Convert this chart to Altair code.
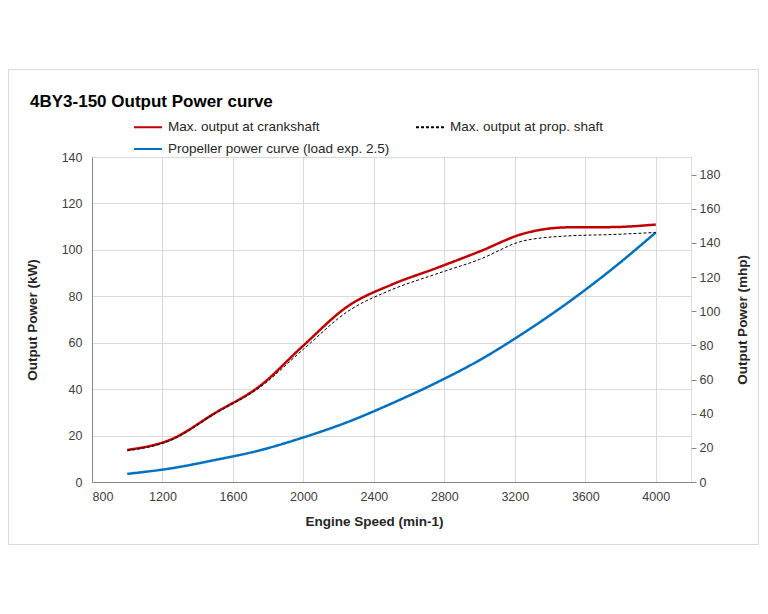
import altair as alt
import pandas as pd

# ---- data ----
speed = [1000, 1250, 1500, 1750, 2000, 2250, 2500, 2750, 3000, 3250, 3500, 3750, 4000]
crank_kw = [13.8, 18.4, 29.8, 41.2, 58.8, 75.6, 85.0, 92.0, 99.3, 107.0, 109.7, 109.8, 110.9]
prop_shaft_kw = [13.5, 18.0, 29.5, 40.6, 57.2, 73.4, 82.8, 89.5, 95.9, 103.9, 106.0, 106.6, 107.5]
propeller_kw = [3.5, 5.9, 9.5, 13.6, 19.2, 25.8, 33.8, 42.6, 52.5, 64.2, 77.2, 91.6, 107.5]

series_names = [
    "Max. output at crankshaft",
    "Max. output at prop. shaft",
    "Propeller power curve (load exp. 2.5)",
]
series_colors = ["#c00000", "#000000", "#0070c0"]
series_dash = [[1, 0], [3, 2], [1, 0]]
series_width = [2.5, 1.0, 2.5]

x_ticks = [800, 1200, 1600, 2000, 2400, 2800, 3200, 3600, 4000]
kw_ticks = [0, 20, 40, 60, 80, 100, 120, 140]
mhp_ticks = [0, 20, 40, 60, 80, 100, 120, 140, 160, 180]
KW_TO_MHP = 1.35962

title_text = "4BY3-150 Output Power curve"
x_title = "Engine Speed (min-1)"
y_title = "Output Power (kW)"
y2_title = "Output Power (mhp)"

# draw order: crankshaft, propeller, then the dashed prop-shaft line on top
rows = []
for idx, values in [(0, crank_kw), (2, propeller_kw), (1, prop_shaft_kw)]:
    for s, v in zip(speed, values):
        rows.append({"speed": s, "kw": v, "series": series_names[idx], "sw": series_width[idx]})
df = pd.DataFrame(rows)

FONT = "Liberation Sans"
W, H = 599, 325

legend = alt.Legend(
    title=None, orient="none", legendX=41, legendY=-45, columns=2, columnPadding=22,
    direction="horizontal",
    rowPadding=-9.5, symbolType="stroke", symbolSize=784, symbolStrokeWidth=2, labelOffset=5,
    labelFont=FONT, labelFontSize=13.5, labelColor="#262626", padding=0, labelLimit=400,
    values=series_names,
)

x_enc = alt.X(
    "speed:Q",
    scale=alt.Scale(domain=[800, 4200], nice=False, zero=False),
    axis=alt.Axis(
        values=x_ticks, title=x_title, ticks=False, labelPadding=8,
        grid=True, gridColor="#d9d9d9", domainColor="#868686",
        labelFontSize=12.5, labelColor="#404040", labelFont=FONT,
        titleFontSize=13.5, titleFont=FONT, titleFontWeight="bold", titleColor="#262626",
        titlePadding=12, titleX=282, format="d",
    ),
)

lines = alt.Chart(df).mark_line(interpolate="monotone").encode(
    x=x_enc,
    y=alt.Y(
        "kw:Q",
        scale=alt.Scale(domain=[0, 140], nice=False),
        axis=alt.Axis(
            values=kw_ticks, title=y_title, ticks=False, labelPadding=10,
            grid=True, gridColor="#d9d9d9", domainColor="#868686",
            labelFontSize=12.5, labelColor="#404040", labelFont=FONT,
            titleFontSize=13.5, titleFont=FONT, titleFontWeight="bold", titleColor="#262626",
            titlePadding=22,
        ),
    ),
    color=alt.Color("series:N", scale=alt.Scale(domain=series_names, range=series_colors), legend=legend),
    strokeDash=alt.StrokeDash("series:N", scale=alt.Scale(domain=series_names, range=series_dash), legend=legend),
    strokeWidth=alt.StrokeWidth("sw:Q", scale=None),
    detail="series:N",
)

mhp_layer = alt.Chart(df).transform_filter(
    alt.datum.series == series_names[0]
).transform_calculate(
    mhp=f"datum.kw * {KW_TO_MHP}"
).mark_line(opacity=0).encode(
    x=alt.X("speed:Q"),
    y=alt.Y(
        "mhp:Q",
        scale=alt.Scale(domain=[0, 140 * KW_TO_MHP], nice=False),
        axis=alt.Axis(
            orient="right", values=mhp_ticks, title=y2_title, grid=False,
            domain=False, ticks=True, tickSize=5, tickColor="#868686", labelPadding=3,
            labelFontSize=12.5, labelColor="#404040", labelFont=FONT,
            titleFontSize=13.5, titleFont=FONT, titleFontWeight="bold", titleColor="#262626",
            titlePadding=30, titleAngle=270,
        ),
    ),
)

border_df = pd.DataFrame({"k": [0]})
border = alt.Chart(border_df).mark_rect(fillOpacity=0, stroke="#d9d9d9", strokeWidth=1).encode(
    x=alt.value(-83.5), x2=alt.value(666.5), y=alt.value(-87.5), y2=alt.value(387.5)
)

chart = alt.layer(border, lines, mhp_layer).resolve_scale(y="independent").properties(
    width=W, height=H,
    title=alt.TitleParams(
        title_text, anchor="start", frame="group", fontSize=17, fontWeight="bold",
        font=FONT, color="#000000", dx=-62, offset=-42,
    ),
    autosize=alt.AutoSizeParams(type="none"),
    padding={"left": 84, "top": 149, "right": 68, "bottom": 64},
).configure_view(
    stroke="#b3b3b3", strokeWidth=1
).configure(background="white")

chart.save("out.html", embed_options={"renderer": "svg", "actions": False})
